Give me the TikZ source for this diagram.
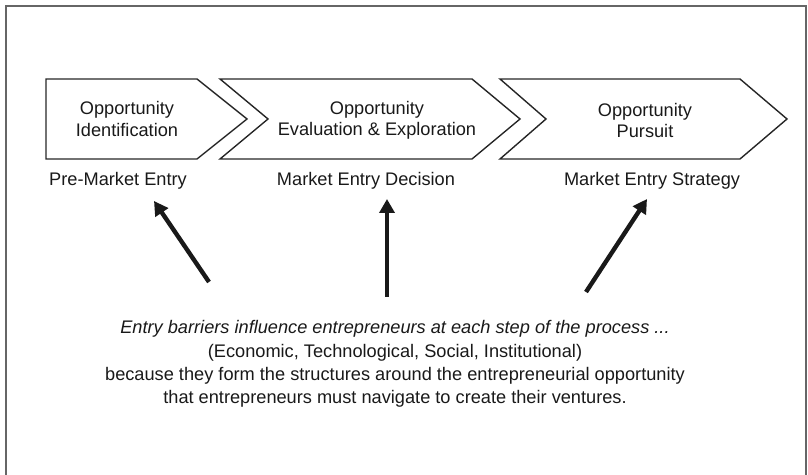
\documentclass[tikz,border=0pt]{standalone}
\usepackage{fontspec}
\setmainfont{Liberation Sans}
\usetikzlibrary{arrows.meta}
\usetikzlibrary{positioning}

\begin{document}
\begin{tikzpicture}[x=0.5pt,y=-0.5pt,
    txt/.style={font=\fontsize{9.1}{10.5}\selectfont, align=center, text=black!90},
    lbl/.style={font=\fontsize{9.1}{11}\selectfont, text=black!90, text height=6.6pt, text depth=1.9pt},
    chev/.style={draw=black!85, line width=0.7pt, line join=miter},
    barrier/.style={line width=2.2pt, black!90, -{Triangle[length=7pt,width=7.5pt]}}]
    \useasboundingbox (0,0) rectangle (808,475);
    \draw [black!60, line width=1pt] (6,476) -- (6,6) -- (806,6) -- (806,476);

    \draw [chev] (46,79) -- (197,79) -- (247,119) -- (197,159) -- (46,159) -- cycle;
    \draw [chev] (220,79) -- (472,79) -- (520,119) -- (472,159) -- (220,159) -- (268,119) -- cycle;
    \draw [chev] (500,79) -- (740,79) -- (787,119) -- (740,159) -- (500,159) -- (546,119) -- cycle;

    \node (ident) [txt] at (127,119) {Opportunity\\Identification};
    \node (eval) [txt] at (377,120) {Opportunity\\Evaluation \& Exploration};
    \node (pursuit) [txt] at (645,120) {Opportunity\\Pursuit};

    \node (premarket) [lbl] at (118,181) {Pre-Market Entry};
    \node (decision) [lbl] at (366,181) {Market Entry Decision};
    \node (strategy) [lbl] at (652,181) {Market Entry Strategy};

    \node (barriers) [txt, font=\fontsize{9.1}{11.7}\selectfont] at (395,364)
      {\textit{Entry barriers influence entrepreneurs at each step of the process ...}\\
       (Economic, Technological, Social, Institutional)\\
       because they form the structures around the entrepreneurial opportunity\\
       that entrepreneurs must navigate to create their ventures.};

    \coordinate (b1) at (209,282);
    \coordinate (b2) at (387,297);
    \coordinate (b3) at (586,292);
    \coordinate (s1) at (154,201);
    \coordinate (s2) at (387,199);
    \coordinate (s3) at (647,199);
    \path [barrier] (b1) edge (s1);
    \path [barrier] (b2) edge (s2);
    \path [barrier] (b3) edge (s3);
\end{tikzpicture}
\end{document}
